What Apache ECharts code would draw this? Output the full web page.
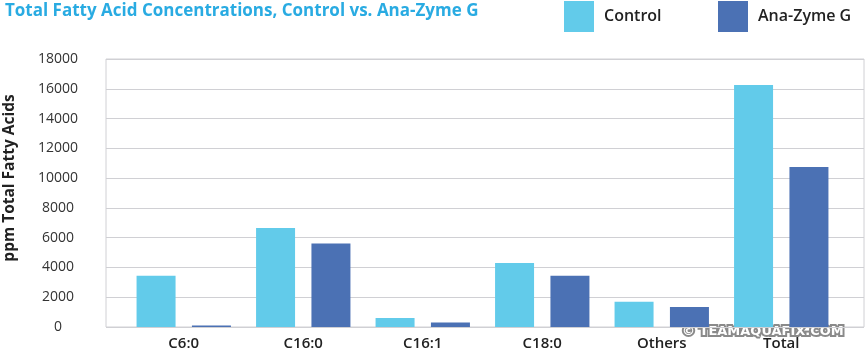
<!DOCTYPE html>
<html>
<head>
<meta charset="utf-8">
<script src="https://cdn.jsdelivr.net/npm/echarts@6/dist/echarts.min.js"></script>
<style>
  html, body { margin: 0; padding: 0; background: #fff; }
  #chart { width: 865px; height: 354px; }
</style>
</head>
<body>
<div id="chart"></div>
<script>
// data
const categories = ['C6:0', 'C16:0', 'C16:1', 'C18:0', 'Others', 'Total'];
const controlValues = [3450, 6650, 600, 4300, 1700, 16250];
const anaZymeValues = [100, 5600, 300, 3450, 1350, 10750];
const yTicks = [0, 2000, 4000, 6000, 8000, 10000, 12000, 14000, 16000, 18000];

const FONT = '"Open Sans", sans-serif';
const CONTROL_COLOR = '#62cbea';
const ANA_COLOR = '#4b71b4';

const chart = echarts.init(document.getElementById('chart'));

const legendText = {
    color: '#222',
    fontFamily: FONT,
    fontSize: 16,
    fontWeight: 600,
    padding: [0, 0, 0, 5]
};

const option = {
    animation: false,
    title: {
        text: 'Total Fatty Acid Concentrations, Control vs. Ana-Zyme G',
        left: 0,
        top: -2,
        textStyle: {
            color: '#29abe2',
            fontFamily: FONT,
            fontSize: 17,
            fontWeight: 700
        }
    },
    legend: [
        {
            data: ['Control'],
            left: 564,
            top: 1,
            padding: 0,
            itemWidth: 30,
            itemHeight: 31,
            icon: 'rect',
            textStyle: legendText
        },
        {
            data: ['Ana-Zyme G'],
            left: 718,
            top: 1,
            padding: 0,
            itemWidth: 30,
            itemHeight: 31,
            icon: 'rect',
            textStyle: legendText
        }
    ],
    grid: [
        // bars
        { left: 124, right: 24, top: 59, bottom: 27 },
        // frame, grid lines and y labels
        { left: 106, right: 1, top: 59, bottom: 27, show: true, borderColor: '#d0d0d4', borderWidth: 1 }
    ],
    xAxis: [
        {
            type: 'category',
            gridIndex: 0,
            data: categories,
            axisLine: { show: false },
            axisTick: { show: false },
            axisLabel: {
                color: '#222',
                fontFamily: FONT,
                fontSize: 15,
                fontWeight: 600,
                margin: 9
            }
        },
        {
            type: 'value',
            gridIndex: 1,
            show: false,
            min: 0,
            max: 1
        }
    ],
    yAxis: [
        {
            type: 'value',
            gridIndex: 0,
            min: 0,
            max: 18000,
            interval: 2000,
            show: false
        },
        {
            type: 'value',
            gridIndex: 1,
            min: yTicks[0],
            max: yTicks[yTicks.length - 1],
            interval: 2000,
            axisLine: { show: false },
            axisTick: { show: false },
            splitLine: { lineStyle: { color: '#d0d0d4', width: 1 } },
            axisLabel: {
                align: 'center',
                margin: 48,
                color: '#333',
                fontFamily: FONT,
                fontSize: 14,
                formatter: (v) => String(v)
            }
        }
    ],
    graphic: [
        {
            type: 'text',
            rotation: Math.PI / 2,
            x: 10,
            y: 178,
            style: {
                text: 'ppm Total Fatty Acids',
                fill: '#222',
                font: '700 15.5px ' + FONT,
                textAlign: 'center',
                textVerticalAlign: 'middle'
            }
        },
        {
            type: 'text',
            left: 680,
            top: 323,
            style: {
                text: '\u00a9 TEAMAQUAFIX.COM',
                fill: '#fff',
                stroke: '#8a8a8a',
                lineWidth: 4,
                font: '700 13px "DejaVu Sans", sans-serif'
            }
        }
    ],
    series: [
        {
            name: 'Control',
            type: 'bar',
            xAxisIndex: 0,
            yAxisIndex: 0,
            data: controlValues,
            barWidth: 39,
            barGap: '42%',
            itemStyle: { color: CONTROL_COLOR }
        },
        {
            name: 'Ana-Zyme G',
            type: 'bar',
            xAxisIndex: 0,
            yAxisIndex: 0,
            data: anaZymeValues,
            barWidth: 39,
            itemStyle: { color: ANA_COLOR }
        }
    ]
};

chart.setOption(option);
</script>
</body>
</html>
